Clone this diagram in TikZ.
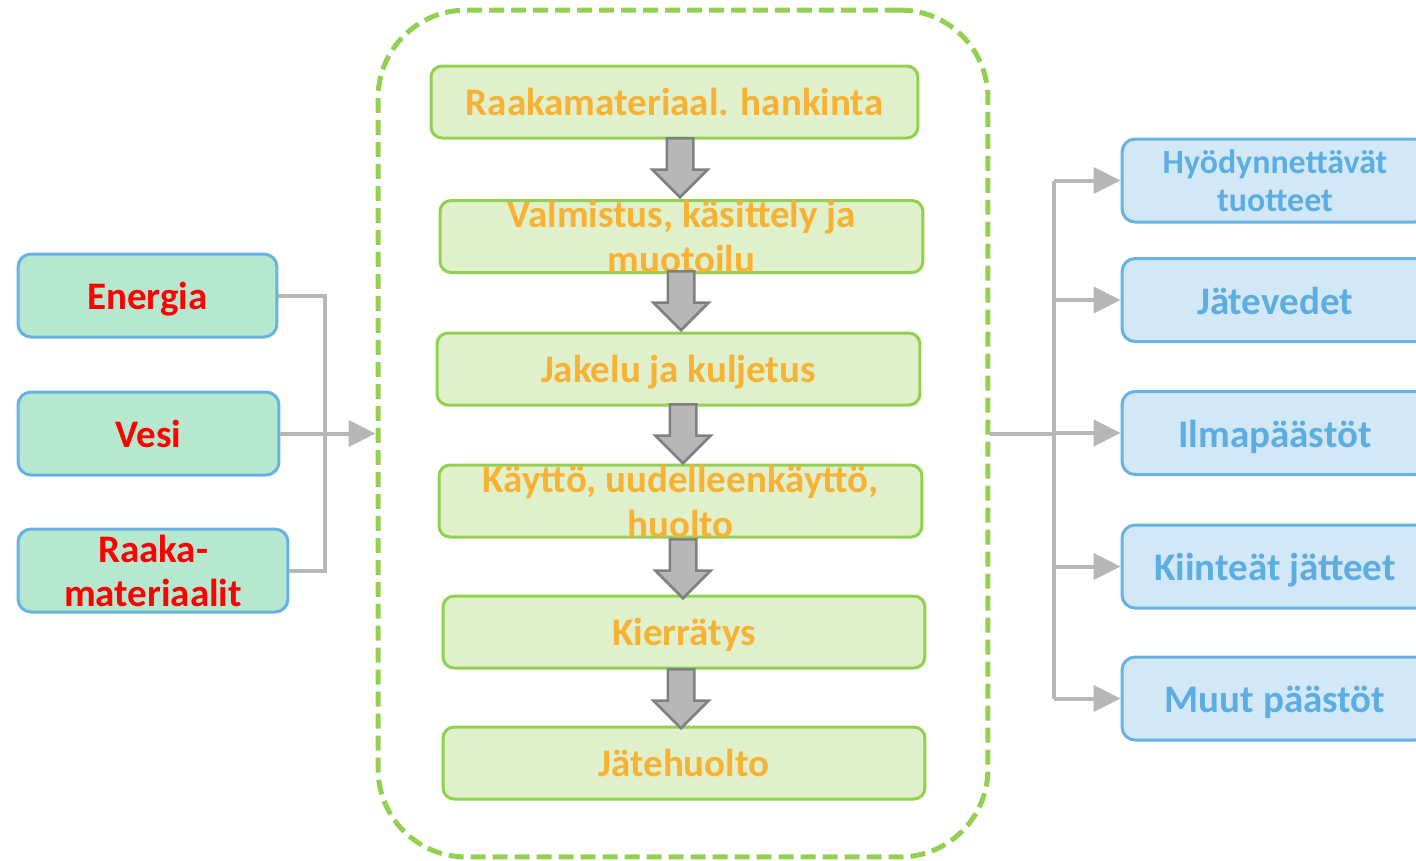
\documentclass[tikz,border=0pt]{standalone}
\usepackage{fontspec}
\setmainfont{Carlito}
\usepackage{xcolor}
\usepackage{tikz}
\usetikzlibrary{shapes,arrows.meta,positioning}
\definecolor{stagefill}{HTML}{DFF0CB}
\definecolor{stageline}{HTML}{92D050}
\definecolor{stagetext}{HTML}{F7B233}
\definecolor{infill}{HTML}{B6E7CF}
\definecolor{intext}{HTML}{FF0000}
\definecolor{boxline}{HTML}{66B2E4}
\definecolor{outfill}{HTML}{D3E8F6}
\definecolor{outtext}{HTML}{5CADE2}
\definecolor{flowgray}{HTML}{B7B7B7}
\definecolor{blkline}{HTML}{808080}
\tikzset{stage/.style={rectangle,rounded corners=0.22cm,draw=stageline,fill=stagefill,line width=0.06cm,minimum width=9.66cm,minimum height=1.44cm,inner sep=0pt,text=stagetext,font=\bfseries\fontsize{22.2}{25.6}\selectfont,text height=0.62cm,text depth=0.1cm}}
\tikzset{stagelbl/.style={inner sep=0pt,text=stagetext,font=\bfseries\fontsize{22.2}{25.6}\selectfont,align=center}}
\tikzset{inbox/.style={rectangle,rounded corners=0.26cm,draw=boxline,fill=infill,line width=0.06cm,minimum height=1.66cm,inner sep=0pt,text=intext,font=\bfseries\fontsize{22.2}{25}\selectfont,text height=0.64cm,text depth=0.08cm}}
\tikzset{inlbl/.style={inner sep=0pt,text=intext,font=\bfseries\fontsize{22.2}{25}\selectfont,align=center}}
\tikzset{outbox/.style={rectangle,rounded corners=0.26cm,draw=boxline,fill=outfill,line width=0.06cm,minimum width=6.12cm,minimum height=1.66cm,inner sep=0pt,text=outtext,font=\bfseries\fontsize{22.2}{25}\selectfont,text height=0.64cm,text depth=0.08cm}}
\tikzset{outlbl/.style={inner sep=0pt,text=outtext,font=\bfseries\fontsize{19.3}{21.6}\selectfont,align=center}}
\tikzset{blk/.style={single arrow,shape border rotate=270,draw=blkline,fill=flowgray,line width=0.05cm,minimum height=1.18cm,minimum width=1.06cm,single arrow head extend=0.29cm,inner sep=0.24cm,anchor=tail}}
\tikzset{flow/.style={draw=flowgray,line width=0.08cm},tip/.style={-{Triangle[length=0.54cm,width=0.52cm]}}}

\begin{document}
\begin{tikzpicture}[x=0.02cm,y=-0.02cm]
    \useasboundingbox (0,0) rectangle (1416,860);
    \clip (0,0) rectangle (1416,860);

    % life cycle frame
    \node[draw=stageline,line width=0.1cm,dash pattern=on 0.3cm off 0.14cm,rounded corners=1.76cm,minimum width=12.2cm,minimum height=16.94cm] (lc) at (683,433.5) {};

    \node[stage,minimum width=9.74cm] (s1) at (674.5,102) {Raakamateriaal. hankinta};
    \node[stage,label={[stagelbl]center:{Valmistus, käsittely ja\\muotoilu}}] (s2) at (681.5,236.5) {};
    \node[stage] (s3) at (678.5,369) {Jakelu ja kuljetus};
    \node[stage,label={[stagelbl]center:{Käyttö, uudelleenkäyttö,\\huolto}}] (s4) at (680.5,501) {};
    \node[stage,minimum width=9.64cm] (s5) at (684,632) {Kierrätys};
    \node[stage,minimum width=9.64cm] (s6) at (684,763) {Jätehuolto};

    \node[blk] (a1) at (680,137) {};
    \node[blk] (a2) at (681,270) {};
    \node[blk] (a3) at (683,403) {};
    \node[blk] (a4) at (683,538) {};
    \node[blk] (a5) at (681,668) {};

    % inputs
    \node[inbox,minimum width=5.18cm] (energia) at (147.5,295.5) {Energia};
    \node[inbox,minimum width=5.22cm] (vesi) at (148.5,433.5) {Vesi};
    \node[inbox,minimum width=5.4cm,label={[inlbl]center:{Raaka-\\materiaalit}}] (raaka) at (153,570.5) {};

    \coordinate (join) at (325,433.5);
    \draw[flow] (energia.east) -| (join) |- (raaka.east);
    \draw[flow,tip] (vesi.east) -- (lc.west);

    % outputs
    \node[outbox,label={[outlbl]center:{Hyödynnettävät\\tuotteet}}] (o1) at (1275,180.5) {};
    \node[outbox] (o2) at (1275,300) {Jätevedet};
    \node[outbox] (o3) at (1275,433) {Ilmapäästöt};
    \node[outbox] (o4) at (1275,566.5) {Kiinteät jätteet};
    \node[outbox] (o5) at (1275,698.5) {Muut päästöt};

    \coordinate (hub) at (1054,433.5);
    \draw[flow] (lc.east) -- (hub);
    \draw[flow] (hub |- o1.west) -- (hub |- o5.west);
    \draw[flow,tip] (hub |- o1.west) -- (o1.west);
    \draw[flow,tip] (hub |- o2.west) -- (o2.west);
    \draw[flow,tip] (hub |- o3.west) -- (o3.west);
    \draw[flow,tip] (hub |- o4.west) -- (o4.west);
    \draw[flow,tip] (hub |- o5.west) -- (o5.west);
\end{tikzpicture}
\end{document}
